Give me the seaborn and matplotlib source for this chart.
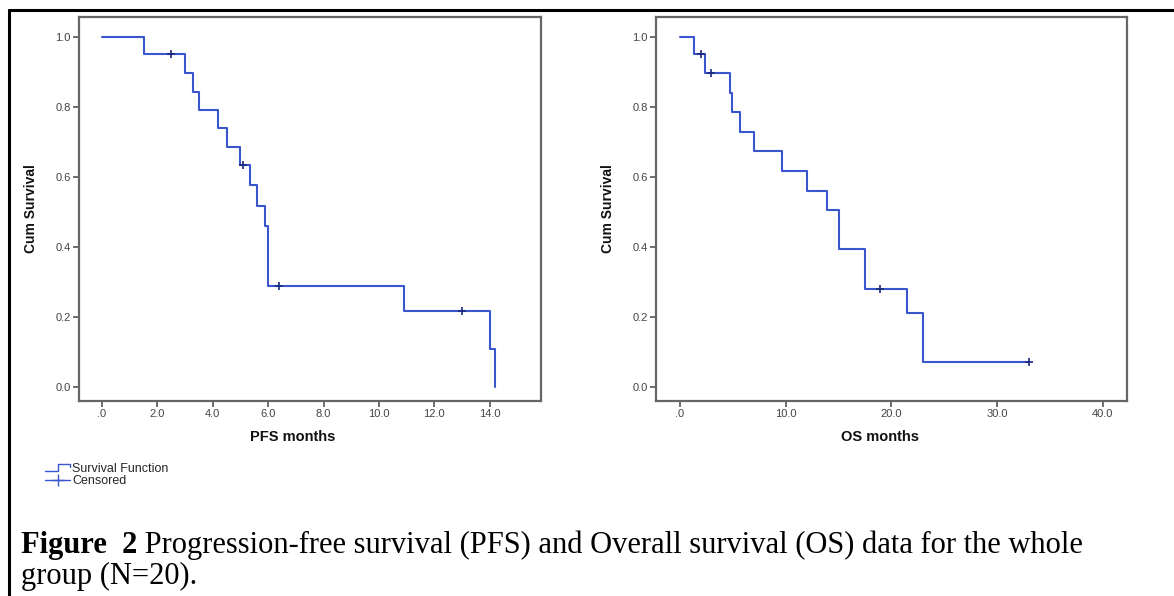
import matplotlib
matplotlib.use("Agg")
import matplotlib.pyplot as plt
import seaborn as sns
import pandas as pd
from matplotlib.lines import Line2D
from matplotlib.legend_handler import HandlerBase

# ---------------- data ----------------
pfs_time = [0.0, 1.5, 3.0, 3.3, 3.5, 4.2, 4.5, 5.0, 5.35, 5.6, 5.9, 6.0, 10.9, 14.0, 14.2]
pfs_surv = [1.0, 0.95, 0.897, 0.844, 0.792, 0.739, 0.686, 0.633, 0.576, 0.518, 0.460, 0.288, 0.216, 0.108, 0.0]
pfs_cens_time = [2.5, 5.1, 6.4, 13.0]
pfs_cens_surv = [0.95, 0.633, 0.288, 0.216]

os_time = [0.0, 1.3, 2.4, 4.7, 4.9, 5.7, 7.0, 9.7, 12.0, 13.9, 15.0, 17.5, 21.5, 23.0, 33.0]
os_surv = [1.0, 0.95, 0.897, 0.841, 0.785, 0.729, 0.673, 0.617, 0.561, 0.505, 0.393, 0.281, 0.211, 0.070, 0.070]
os_cens_time = [2.0, 2.9, 18.9, 33.0]
os_cens_surv = [0.95, 0.897, 0.281, 0.070]

pfs_xticks = [0, 2, 4, 6, 8, 10, 12, 14]
pfs_xticklabels = [".0", "2.0", "4.0", "6.0", "8.0", "10.0", "12.0", "14.0"]
os_xticks = [0, 10, 20, 30, 40]
os_xticklabels = [".0", "10.0", "20.0", "30.0", "40.0"]
yticks = [0.0, 0.2, 0.4, 0.6, 0.8, 1.0]
yticklabels = ["0.0", "0.2", "0.4", "0.6", "0.8", "1.0"]

legend_labels = ["Survival Function", "Censored"]
caption_bold = "Figure  2"
caption_line1 = " Progression-free survival (PFS) and Overall survival (OS) data for the whole"
caption_line2 = "group (N=20)."

# ---------------- style ----------------
sns.set_theme(style="white")
plt.rcParams["font.family"] = ["Liberation Sans", "DejaVu Sans"]

LINE_COLOR = "#3a56cc"
CENS_COLOR = "#1a2a80"
SPINE_COLOR = "#666666"

W, H = 1174, 596
fig = plt.figure(figsize=(W / 100, H / 100), dpi=100)
fig.patch.set_facecolor("white")


def px_axes(x0, x1, y0, y1):
    return fig.add_axes([x0 / W, 1 - y1 / H, (x1 - x0) / W, (y1 - y0) / H])


ax1 = px_axes(79, 541, 17, 401)
ax2 = px_axes(656, 1127, 17, 401)


def draw_km(ax, t, s, ct, cs):
    df = pd.DataFrame({"t": t, "s": s})
    sns.lineplot(data=df, x="t", y="s", ax=ax, color=LINE_COLOR, lw=1.5,
                 drawstyle="steps-post", sort=False, estimator=None)
    cdf = pd.DataFrame({"t": ct, "s": cs})
    sns.scatterplot(data=cdf, x="t", y="s", ax=ax, marker="+", s=28,
                    color=CENS_COLOR, linewidth=1.2, zorder=5)


draw_km(ax1, pfs_time, pfs_surv, pfs_cens_time, pfs_cens_surv)
draw_km(ax2, os_time, os_surv, os_cens_time, os_cens_surv)

ax1.set_xlim(-0.83, 15.85)
ax2.set_xlim(-2.27, 42.3)

for ax, xt, xtl, xlab, xl_x in [
    (ax1, pfs_xticks, pfs_xticklabels, "PFS months", 0.463),
    (ax2, os_xticks, os_xticklabels, "OS months", 0.476),
]:
    ax.set_ylim(-0.04, 1.057)
    ax.set_xticks(xt)
    ax.set_xticklabels(xtl)
    ax.set_yticks(yticks)
    ax.set_yticklabels(yticklabels)
    ax.tick_params(axis="both", which="both", direction="out", length=4, width=1.2,
                   color="#555555", labelsize=8, labelcolor="#444444", pad=2,
                   bottom=True, left=True, top=False, right=False)
    for sp in ax.spines.values():
        sp.set_visible(True)
        sp.set_color(SPINE_COLOR)
        sp.set_linewidth(1.6)
    ax.set_xlabel(xlab, fontsize=10.5, fontweight="bold", color="#111111")
    ax.set_ylabel("Cum Survival", fontsize=10, fontweight="bold", color="#111111")
    ax.xaxis.set_label_coords(xl_x, -0.075)
    ax.yaxis.set_label_coords(-0.088, 0.5)
    ax.grid(False)
    ax.set_facecolor("white")


# ---------------- legend ----------------
class StepHandler(HandlerBase):
    def create_artists(self, legend, orig_handle, xdescent, ydescent, width,
                       height, fontsize, trans):
        xs = [0, 0.5 * width, 0.5 * width, width, width]
        ys = [0.15 * height, 0.15 * height, 0.95 * height, 0.95 * height, 0.55 * height]
        ln = Line2D([x - xdescent for x in xs], [y - ydescent for y in ys],
                    color=LINE_COLOR, lw=1.0, transform=trans)
        return [ln]


h_surv = Line2D([], [], color=LINE_COLOR)
h_cens = Line2D([], [], color=LINE_COLOR, lw=1.0, marker="+", markersize=8,
                markeredgecolor=LINE_COLOR, markeredgewidth=1.0)
fig.legend([h_surv, h_cens], legend_labels,
           handler_map={h_surv: StepHandler()},
           loc="upper left", bbox_to_anchor=(45 / W, 1 - 463 / H),
           frameon=False, fontsize=9, handlelength=2.0, handletextpad=0.2,
           borderpad=0, borderaxespad=0, labelspacing=0.0)

# ---------------- caption ----------------
serif = ["Liberation Serif", "DejaVu Serif"]
CAP_SIZE = 22
t1 = fig.text(21 / W, 1 - 553 / H, caption_bold, fontsize=CAP_SIZE, fontweight="bold",
              family=serif, va="baseline", ha="left", color="black")
fig.add_artist(matplotlib.text.Annotation(
    caption_line1, xy=(1, 0), xycoords=t1, va="bottom", ha="left",
    fontsize=CAP_SIZE, family=serif, color="black"))
fig.text(21 / W, 1 - 584 / H, caption_line2, fontsize=CAP_SIZE, family=serif,
         va="baseline", ha="left", color="black")

# ---------------- outer frame ----------------
fig.add_artist(Line2D([9 / W, 9 / W], [0, 1 - 10 / H], transform=fig.transFigure,
                      color="black", lw=2.2))
fig.add_artist(Line2D([9 / W, 1], [1 - 10 / H, 1 - 10 / H], transform=fig.transFigure,
                      color="black", lw=2.2))

fig.savefig("out.png", dpi=100, facecolor="white")
